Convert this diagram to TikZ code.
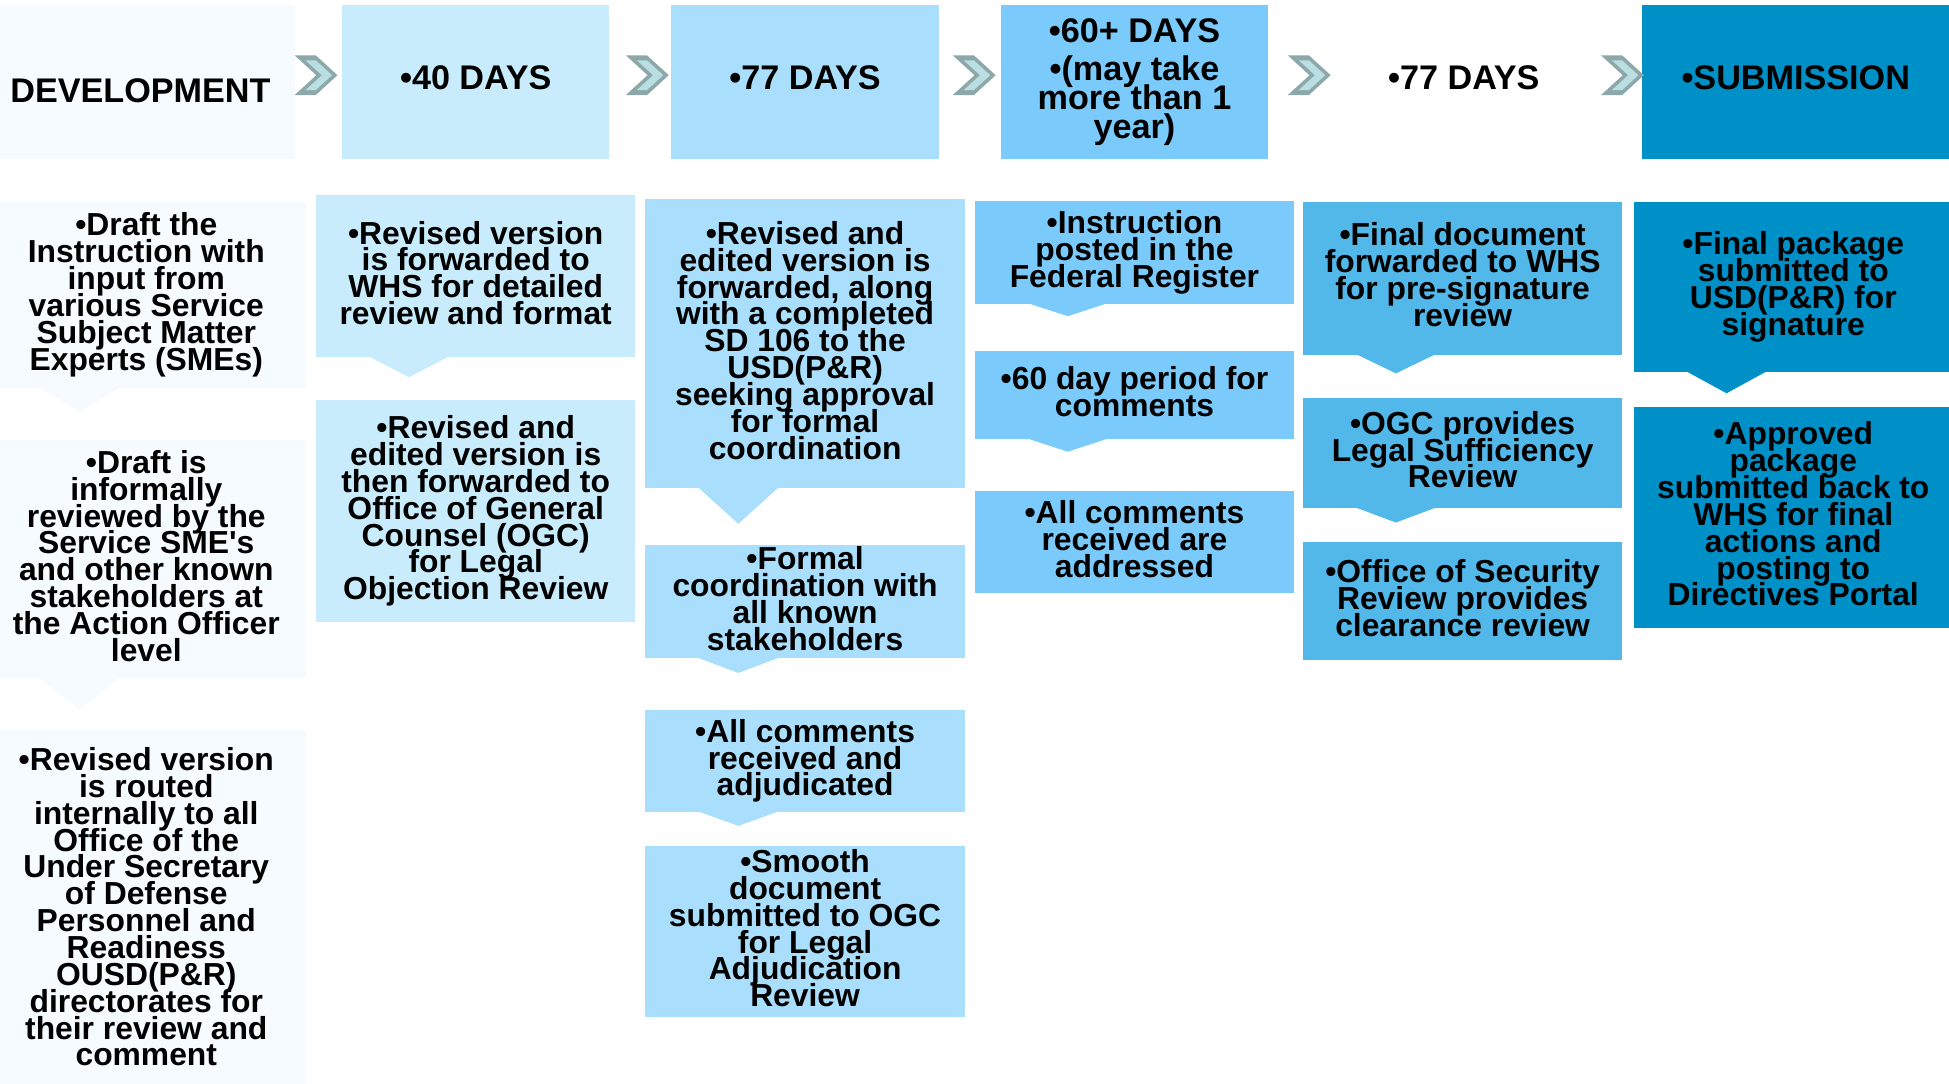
\documentclass[tikz,border=0pt]{standalone}
\usepackage{fontspec}
\setmainfont{Liberation Sans}[Ligatures=TeXOff]
\definecolor{c1}{HTML}{F5FBFE}
\definecolor{c2}{HTML}{C8ECFC}
\definecolor{c3}{HTML}{A9DEFC}
\definecolor{c4}{HTML}{7ACBFB}
\definecolor{c5}{HTML}{52B8E9}
\definecolor{c6}{HTML}{0090C8}
\definecolor{chevdark}{HTML}{8EA8A9}
\definecolor{chevlight}{HTML}{B9DFE2}
\newcommand\bodyf{\bfseries\fontsize{25.6pt}{21.6pt}\selectfont\lineskiplimit=-100pt}
\newcommand\headf{\bfseries\fontsize{27.5pt}{23.5pt}\selectfont\lineskiplimit=-100pt}
\newcommand\lastd{\rule[-5.5pt]{0pt}{5.5pt}}
\newcommand\ptr[3]{%
  \fill[#2] ([xshift=43pt,yshift=0.5pt]#1.south west) -- ([xshift=107pt,yshift=0.5pt]#1.south west) -- ([xshift=75pt,yshift=-#3pt]#1.south west) -- cycle;}
\newcommand\chev[2]{%
  \begin{scope}[shift={(#1,#2)}]
    \fill[chevdark] (0,0) -- (17,0) -- (34.5,16) -- (17,32) -- (0,32) -- (17.5,16) -- cycle;
    \fill[chevlight] (8.8,4) -- (17,4) -- (30.1,16) -- (17,28) -- (8.8,28) -- (21.9,16) -- cycle;
  \end{scope}}
\begin{document}
\begin{tikzpicture}[x=1pt,y=-1pt,
  bx/.style={anchor=north west, inner sep=0pt, align=center, text=black, font=\bodyf, minimum width=257pt},
  hd/.style={anchor=north west, inner sep=0pt, align=center, text=black, font=\headf, minimum height=124pt},
  ]
\clip (0,0) rectangle (1568,872);
\fill[white] (0,0) rectangle (1568,872);

% header row
\fill[c1] (0,4) rectangle (237,128);
\node[anchor=center, inner sep=0pt, font=\headf, text depth=0pt] (h1) at (113,73) {DEVELOPMENT};
\node[hd, fill=c2, minimum width=215pt, text depth=8pt] (h2) at (275,4) {•40 DAYS};
\node[hd, fill=c3, minimum width=215pt, text depth=8pt] (h3) at (540,4) {•77 DAYS};
\node[hd, fill=c4, minimum width=215pt] (h4) at (805,4) {•60+ DAYS\\[6.5pt]•(may take\\more than 1\\year)};
\node[hd, minimum width=215pt, text depth=8pt] (h5) at (1070,4) {•77 DAYS};
\node[hd, fill=c6, minimum width=247pt, text depth=8pt] (h6) at (1321,4) {•SUBMISSION};

\chev{237}{44.5}
\chev{503.5}{44.5}
\chev{766.5}{44.5}
\chev{1036}{44.5}
\chev{1288}{44.5}

% column 1
\node[bx, fill=c1, minimum height=150pt] (c1a) at (-11,162) {•Draft the\\Instruction with\\input from\\various Service\\Subject Matter\\Experts (SMEs)\lastd};
\node[bx, fill=c1, minimum height=191.5pt] (c1b) at (-11,354) {•Draft is\\informally\\reviewed by the\\Service SME's\\and other known\\stakeholders at\\the Action Officer\\level\lastd};
\node[bx, fill=c1, minimum height=290pt] (c1c) at (-11,587) {•Revised version\\is routed\\internally to all\\Office of the\\Under Secretary\\of Defense\\Personnel and\\Readiness\\OUSD(P\&R)\\directorates for\\their review and\\comment\lastd};
\ptr{c1a}{c1}{19}
\ptr{c1b}{c1}{24.5}

% column 2
\node[bx, fill=c2, minimum height=130pt] (c2a) at (254,157) {•Revised version\\is forwarded to\\WHS for detailed\\review and format\lastd};
\node[bx, fill=c2, minimum height=178pt] (c2b) at (254,322) {•Revised and\\edited version is\\then forwarded to\\Office of General\\Counsel (OGC)\\for Legal\\Objection Review\lastd};
\ptr{c2a}{c2}{16}

% column 3
\node[bx, fill=c3, minimum height=232.5pt] (c3a) at (519,160) {•Revised and\\edited version is\\forwarded, along\\with a completed\\SD 106 to the\\USD(P\&R)\\seeking approval\\for formal\\coordination\lastd};
\node[bx, fill=c3, minimum height=91pt] (c3b) at (519,438.5) {•Formal\\coordination with\\all known\\stakeholders\lastd};
\node[bx, fill=c3, minimum height=82pt] (c3c) at (519,571) {•All comments\\received and\\adjudicated\lastd};
\node[bx, fill=c3, minimum height=137.5pt] (c3d) at (519,680.5) {•Smooth\\document\\submitted to OGC\\for Legal\\Adjudication\\Review\lastd};
\ptr{c3a}{c3}{28.5}
\ptr{c3b}{c3}{11.5}
\ptr{c3c}{c3}{11}

% column 4
\node[bx, fill=c4, minimum height=82.5pt] (c4a) at (784,161.5) {•Instruction\\posted in the\\Federal Register\lastd};
\node[bx, fill=c4, minimum height=71pt] (c4b) at (784,282) {•60 day period for\\comments\lastd};
\node[bx, fill=c4, minimum height=82pt] (c4c) at (784,395) {•All comments\\received are\\addressed\lastd};
\ptr{c4a}{c4}{10}
\ptr{c4b}{c4}{10}

% column 5
\node[bx, fill=c5, minimum height=123pt] (c5a) at (1048,162) {•Final document\\forwarded to WHS\\for pre-signature\\review\lastd};
\node[bx, fill=c5, minimum height=88.5pt] (c5b) at (1048,320) {•OGC provides\\Legal Sufficiency\\Review\lastd};
\node[bx, fill=c5, minimum height=95pt] (c5c) at (1048,436) {•Office of Security\\Review provides\\clearance review\lastd};
\ptr{c5a}{c5}{15}
\ptr{c5b}{c5}{11.5}

% column 6
\node[bx, fill=c6, minimum height=137pt] (c6a) at (1314,162) {•Final package\\submitted to\\USD(P\&R) for\\signature\lastd};
\node[bx, fill=c6, minimum height=178pt] (c6b) at (1314,327) {•Approved\\package\\submitted back to\\WHS for final\\actions and\\posting to\\Directives Portal\lastd};
\ptr{c6a}{c6}{17}
\end{tikzpicture}
\end{document}
